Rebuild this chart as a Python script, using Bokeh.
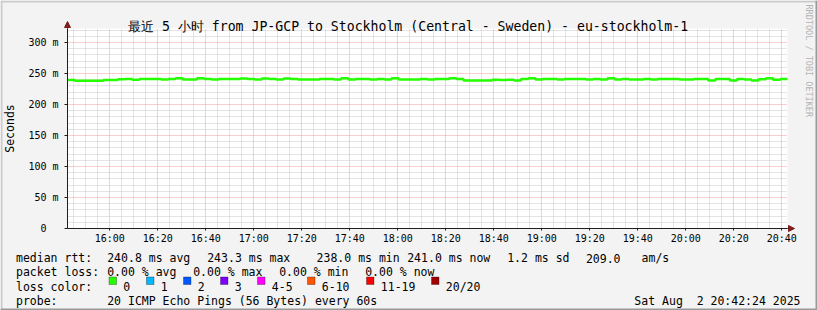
from datetime import datetime, timedelta
import math

from bokeh.plotting import figure
from bokeh.models import (FixedTicker, CustomJSTickFormatter, DatetimeTickFormatter, Label,
                          Arrow, NormalHead, Range1d, BoxAnnotation)
from bokeh.embed import file_html
from bokeh.resources import INLINE

# ---------------- data ----------------
title_text = "最近 5 小时 from JP-GCP to Stockholm (Central - Sweden) - eu-stockholm-1"
start_time = datetime(2025, 8, 2, 15, 42, 24)
end_time = datetime(2025, 8, 2, 20, 42, 24)
step_minutes = 3

median_rtt_ms = [
    239.5, 238.3, 238.5, 238.5, 238.3, 239.5, 239.5, 240.8, 241.0, 240.0,
    241.0, 241.2, 241.0, 240.5, 241.0, 242.3, 240.5, 240.5, 242.5, 241.0,
    240.3, 241.0, 241.0, 241.0, 242.0, 241.0, 240.3, 242.0, 241.0, 240.3,
    242.0, 241.0, 240.5, 240.5, 240.5, 241.3, 241.3, 240.5, 242.5, 240.3,
    241.3, 241.0, 240.3, 241.0, 240.3, 242.3, 240.3, 240.3, 240.5, 241.0,
    240.3, 241.3, 241.3, 242.5, 241.0, 238.8, 238.8, 238.8, 238.8, 239.8,
    239.5, 239.8, 238.8, 241.3, 242.3, 240.3, 241.0, 241.3, 240.3, 241.3,
    241.0, 241.0, 240.3, 241.0, 240.3, 242.5, 240.3, 241.3, 240.3, 240.3,
    241.3, 240.3, 241.0, 241.0, 241.0, 240.3, 240.3, 241.0, 241.0, 238.8,
    241.3, 241.3, 238.8, 241.3, 240.3, 238.8, 240.8, 242.5, 240.0, 241.0,
]

y_ticks = [0, 50, 100, 150, 200, 250, 300]
y_minor_step = 10
y_max = 322.58
x_tick_labels = ["16:00", "16:20", "16:40", "17:00", "17:20", "17:40", "18:00",
                 "18:20", "18:40", "19:00", "19:20", "19:40", "20:00", "20:20", "20:40"]
x_minor_step_min = 5

loss_labels = ["0", "1", "2", "3", "4-5", "6-10", "11-19", "20/20"]
loss_colors = ["#26ff00", "#00b8ff", "#0059ff", "#7e00ff", "#ff00ff", "#ff5500", "#ff0000", "#a10000"]

rtt_caption = "median rtt:"
rtt_stats = ["240.8 ms avg", "243.3 ms max", "238.0 ms min", "241.0 ms now", "1.2 ms sd", "209.0", "am/s"]
loss_caption = "packet loss:"
loss_stats = ["0.00 % avg", "0.00 % max", "0.00 % min", "0.00 % now"]
color_caption = "loss color:"
probe_caption = "probe:"
probe_text = "20 ICMP Echo Pings (56 Bytes) every 60s"
stamp_text = "Sat Aug  2 20:42:24 2025"
credit_text = "RRDTOOL / TOBI OETIKER"

# ---------------- layout helpers ----------------
EPOCH = datetime(1970, 1, 1)


def ms(dt):
    return (dt - EPOCH).total_seconds() * 1000.0


t0 = ms(start_time)
t1 = ms(end_time)

W, H = 817, 310
FL, FR, FT, FB = 67, 787, 28, 228   # plot-area edges in page pixels
KX = (t1 - t0) / (FR - FL)
KY = y_max / (FB - FT)


def dx(px):
    return t0 + (px - FL) * KX


def dy(py):
    return (FB - py) * KY


times = [start_time + timedelta(minutes=step_minutes * i) for i in range(len(median_rtt_ms))]
xs = [ms(t) for t in times] + [t1]
ys = median_rtt_ms + [median_rtt_ms[-1]]

day = start_time.date()
major_x = [ms(datetime.combine(day, datetime.strptime(s, "%H:%M").time())) for s in x_tick_labels]
minor_x = []
m = datetime(2025, 8, 2, 15, 45)
while m < end_time:
    v = ms(m)
    if v not in major_x:
        minor_x.append(v)
    m += timedelta(minutes=x_minor_step_min)
minor_y = [v for v in range(0, int(y_max) + 1, y_minor_step) if v not in y_ticks]

MONO = "DejaVu Sans Mono"
AXIS_COL = "#1e1e1e"
ARROW_COL = "#7f1f1f"
NBSP = "\u00a0"

# ---------------- figure (frame = whole canvas) ----------------
p = figure(width=W, height=H, output_backend="svg", toolbar_location=None,
           x_axis_type="datetime",
           x_range=Range1d(dx(0), dx(W)), y_range=Range1d(dy(H), dy(0)),
           min_border=0, min_border_left=0, min_border_right=0,
           min_border_top=0, min_border_bottom=0,
           background_fill_color="#f3f3f3", border_fill_color="#f3f3f3",
           outline_line_color=None)

# white plot area under the grid
p.add_layout(BoxAnnotation(left=t0, right=t1, bottom=0, top=y_max, fill_color="white",
                           fill_alpha=1, line_color=None, level="image"))

# grids
for g in (p.xgrid[0], p.ygrid[0]):
    g.grid_line_color = "#f09c9c"
    g.grid_line_dash = "1 1"
    g.minor_grid_line_color = "#c8c8c8"
    g.minor_grid_line_dash = "1 1"
p.xgrid[0].bounds = (t0, t1)
p.xgrid[0].cross_bounds = (0, y_max)
p.ygrid[0].bounds = (0, y_max)
p.ygrid[0].cross_bounds = (t0, t1)

# axes, fixed at the plot-area edges
p.xaxis.ticker = FixedTicker(ticks=major_x, minor_ticks=minor_x)
p.xaxis.formatter = DatetimeTickFormatter(minutes="%H:%M", hourmin="%H:%M", hours="%H:%M",
                                          minsec="%H:%M", seconds="%H:%M", days="%H:%M")
p.yaxis.ticker = FixedTicker(ticks=y_ticks, minor_ticks=minor_y)
p.yaxis.formatter = CustomJSTickFormatter(code="return tick == 0 ? '0\\u00a0\\u00a0' : tick + ' m';")
p.xaxis.fixed_location = 0
p.yaxis.fixed_location = t0
p.xaxis.bounds = (t0, t1)
p.yaxis.bounds = (0, y_max)

for ax in (p.xaxis[0], p.yaxis[0]):
    ax.axis_line_color = AXIS_COL
    ax.major_tick_line_color = AXIS_COL
    ax.minor_tick_line_color = None
    ax.major_tick_in = 0
    ax.major_label_text_font = MONO
    ax.major_label_text_font_size = "10px"
    ax.major_label_text_color = "#000000"

p.xaxis.major_tick_out = 2
p.xaxis.major_label_standoff = 0
p.yaxis.major_tick_out = 3
p.yaxis.major_label_standoff = 5
p.yaxis.axis_label = "Seconds"
p.yaxis.axis_label_text_font = MONO
p.yaxis.axis_label_text_font_size = "11.5px"
p.yaxis.axis_label_text_font_style = "normal"
p.yaxis.axis_label_text_color = "#000000"
p.yaxis.axis_label_standoff = 8

# median line (loss 0 colour)
p.step(xs, ys, mode="after", line_color=loss_colors[0], line_width=2.5)

# axis arrows
p.add_layout(Arrow(end=NormalHead(size=6, fill_color=ARROW_COL, line_color=ARROW_COL, line_width=1),
                   x_start=t1, y_start=0, x_end=dx(794), y_end=0,
                   line_color=AXIS_COL, line_width=1))
p.add_layout(Arrow(end=NormalHead(size=6, fill_color=ARROW_COL, line_color=ARROW_COL, line_width=1),
                   x_start=t0, y_start=y_max, x_end=t0, y_end=dy(21),
                   line_color=AXIS_COL, line_width=1))

# canvas shading border
for (l, r, t, b, col) in [(0, W, 0, 2, "#cbcbcb"), (0, 2, 0, H, "#cbcbcb"),
                          (0, W, H - 2, H, "#999999"), (W - 2, W, 0, H, "#999999")]:
    p.add_layout(BoxAnnotation(left=dx(l), right=dx(r), top=dy(t), bottom=dy(b),
                               fill_color=col, fill_alpha=1, line_color=None))


def add_text(px, py, text, size="11.5px", align="left", baseline="alphabetic",
             color="#000000", angle=0.0):
    p.add_layout(Label(x=dx(px), y=dy(py), text=text, text_font=MONO, text_font_size=size,
                       text_align=align, text_baseline=baseline, text_color=color, angle=angle))


add_text(127.5, 26, title_text, size="13.2px")

ROW1, ROW2, ROW3, ROW4 = 257.7, 271.9, 286.1, 300.3
add_text(15.5, ROW1, rtt_caption)
for xp, t in zip([106.7, 206.7, 316.1, 406.7, 506.7, 585.4, 641.1], rtt_stats):
    add_text(xp, ROW1, t)
add_text(15.5, ROW2, loss_caption)
for xp, t in zip([106.7, 192.7, 278.7, 364.7], loss_stats):
    add_text(xp, ROW2, t)
add_text(15.5, ROW3, color_caption)
add_text(15.5, ROW4, probe_caption)
add_text(106.7, ROW4, probe_text)
add_text(800, ROW4, stamp_text.replace(" ", NBSP), align="right")
add_text(808, 4, credit_text, size="8.5px", baseline="middle", color="#b4b4b4", angle=-math.pi / 2)

# loss colour key: swatch + label
swatch_left = [108.5, 146, 183, 220, 257, 307, 366, 431]
for sl, lab, col in zip(swatch_left, loss_labels, loss_colors):
    p.add_layout(BoxAnnotation(left=dx(sl), right=dx(sl + 7.5), top=dy(276.5), bottom=dy(284),
                               fill_color=col, fill_alpha=1, line_color="black", line_width=1))
    add_text(sl + 14.3, ROW3, lab)

open("out.html", "w").write(file_html(p, INLINE))
